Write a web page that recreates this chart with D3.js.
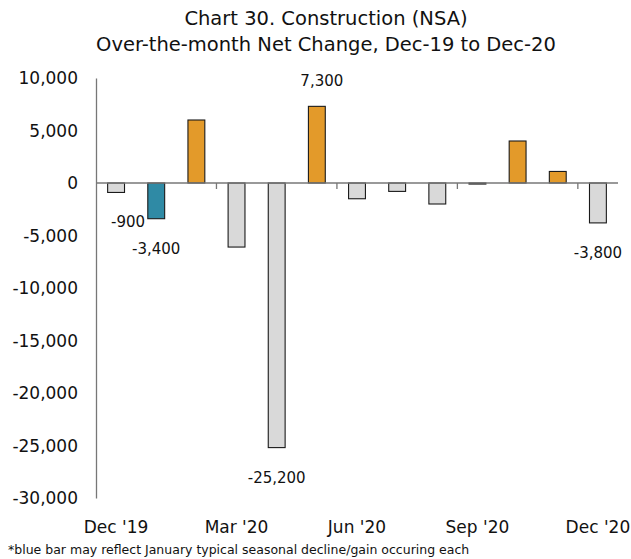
<!DOCTYPE html>
<meta charset="utf-8">
<style>
    body { margin: 0; background: #fff; }
    .container { width: 631px; height: 559px; }
    text { font-family: "DejaVu Sans", sans-serif; fill: #111; }
</style>
<body>

<div class="container"></div>

<script src="https://cdn.jsdelivr.net/npm/d3@7"></script>

<script>

// months Dec-19 .. Dec-20
const months = ['Dec 19', 'Jan 20', 'Feb 20', 'Mar 20', 'Apr 20', 'May 20', 'Jun 20',
                'Jul 20', 'Aug 20', 'Sep 20', 'Oct 20', 'Nov 20', 'Dec 20'];
const netChange = [-900, -3400, 6000, -6100, -25200, 7300, -1500, -800, -2000, -100, 4000, 1100, -3800];
const yTicks = [10000, 5000, 0, -5000, -10000, -15000, -20000, -25000, -30000];
const xLabels = { 'Dec 19': "Dec '19", 'Mar 20': "Mar '20", 'Jun 20': "Jun '20", 'Sep 20': "Sep '20", 'Dec 20': "Dec '20" };
// which months get a value label
const labelled = ['Dec 19', 'Jan 20', 'Apr 20', 'May 20', 'Dec 20'];

const width = 631;
const height = 559;
const margin = { top: 78, right: 13, bottom: 61, left: 96 };

// plain hyphen for negatives, like the original
const fmt = d3.formatLocale({ decimal: '.', thousands: ',', grouping: [3], currency: ['$', ''], minus: '-' }).format(',');

const svg = d3.select('.container')
                .append('svg')
                .attr('width', width)
                .attr('height', height);

const x = d3.scaleBand()
            .domain(months)
            .range([margin.left, width - margin.right])
            .paddingInner(0.58)
            .paddingOuter(0.29);

const y = d3.scaleLinear()
            .domain([-30000, 10000])
            .range([height - margin.bottom, margin.top]);

const barColor = (d, i) => {
    if (i === 1) return '#2f8aa5';     // January (seasonal)
    return d > 0 ? '#e39a2a' : '#d9d9d9';
};

// title
svg.append('text')
    .attr('x', 326).attr('y', 25)
    .attr('text-anchor', 'middle')
    .style('font-size', '19.5px')
    .text('Chart 30. Construction (NSA)');

svg.append('text')
    .attr('x', 326).attr('y', 51)
    .attr('text-anchor', 'middle')
    .style('font-size', '19.5px')
    .text('Over-the-month Net Change, Dec-19 to Dec-20');

// y axis
const yAxis = svg.append('g')
    .attr('transform', `translate(${margin.left},0)`)
    .call(d3.axisLeft(y).tickValues(yTicks).tickSize(0).tickPadding(18).tickFormat(fmt));

yAxis.select('.domain').attr('stroke', '#777').attr('stroke-width', 1.3);
yAxis.selectAll('text').style('font-size', '17px').attr('dy', '0.35em');

// bars
svg.append('g')
    .selectAll('rect')
    .data(netChange)
    .enter()
    .append('rect')
    .attr('x', (d, i) => x(months[i]))
    .attr('width', x.bandwidth())
    .attr('y', d => y(Math.max(0, d)))
    .attr('height', d => Math.abs(y(d) - y(0)))
    .style('fill', barColor)
    .style('stroke', '#1a1a1a')
    .style('stroke-width', 1.1);

// zero line with ticks between quarters
const x0 = svg.append('g')
    .attr('transform', `translate(0,${y(0)})`);

x0.append('line')
    .attr('x1', margin.left).attr('x2', width - margin.right)
    .attr('stroke', '#777').attr('stroke-width', 1.3);

const step = x.step();
x0.selectAll('line.tick')
    .data([2, 5, 8, 11])
    .enter()
    .append('line')
    .attr('class', 'tick')
    .attr('x1', i => x(months[i]) + x.bandwidth() / 2 + step / 2)
    .attr('x2', i => x(months[i]) + x.bandwidth() / 2 + step / 2)
    .attr('y1', 0).attr('y2', 6)
    .attr('stroke', '#777').attr('stroke-width', 1.3);

// category labels at bottom
svg.append('g')
    .selectAll('text')
    .data(Object.keys(xLabels))
    .enter()
    .append('text')
    .attr('x', d => x(d) + x.bandwidth() / 2)
    .attr('y', 533)
    .attr('text-anchor', 'middle')
    .style('font-size', '17px')
    .text(d => xLabels[d]);

// value labels
const labelDx = { 'Dec 19': 12, 'May 20': 5 };
svg.append('g')
    .selectAll('text')
    .data(labelled)
    .enter()
    .append('text')
    .attr('x', m => x(m) + x.bandwidth() / 2 + (labelDx[m] || 0))
    .attr('y', m => {
        const v = netChange[months.indexOf(m)];
        return v < 0 ? y(v) + 35 : y(v) - 20;
    })
    .attr('text-anchor', 'middle')
    .style('font-size', '15px')
    .text(m => fmt(netChange[months.indexOf(m)]));

// footnote
svg.append('text')
    .attr('x', 8).attr('y', 554)
    .style('font-size', '12.5px')
    .text('*blue bar may reflect January typical seasonal decline/gain occuring each');

</script>
</body>
